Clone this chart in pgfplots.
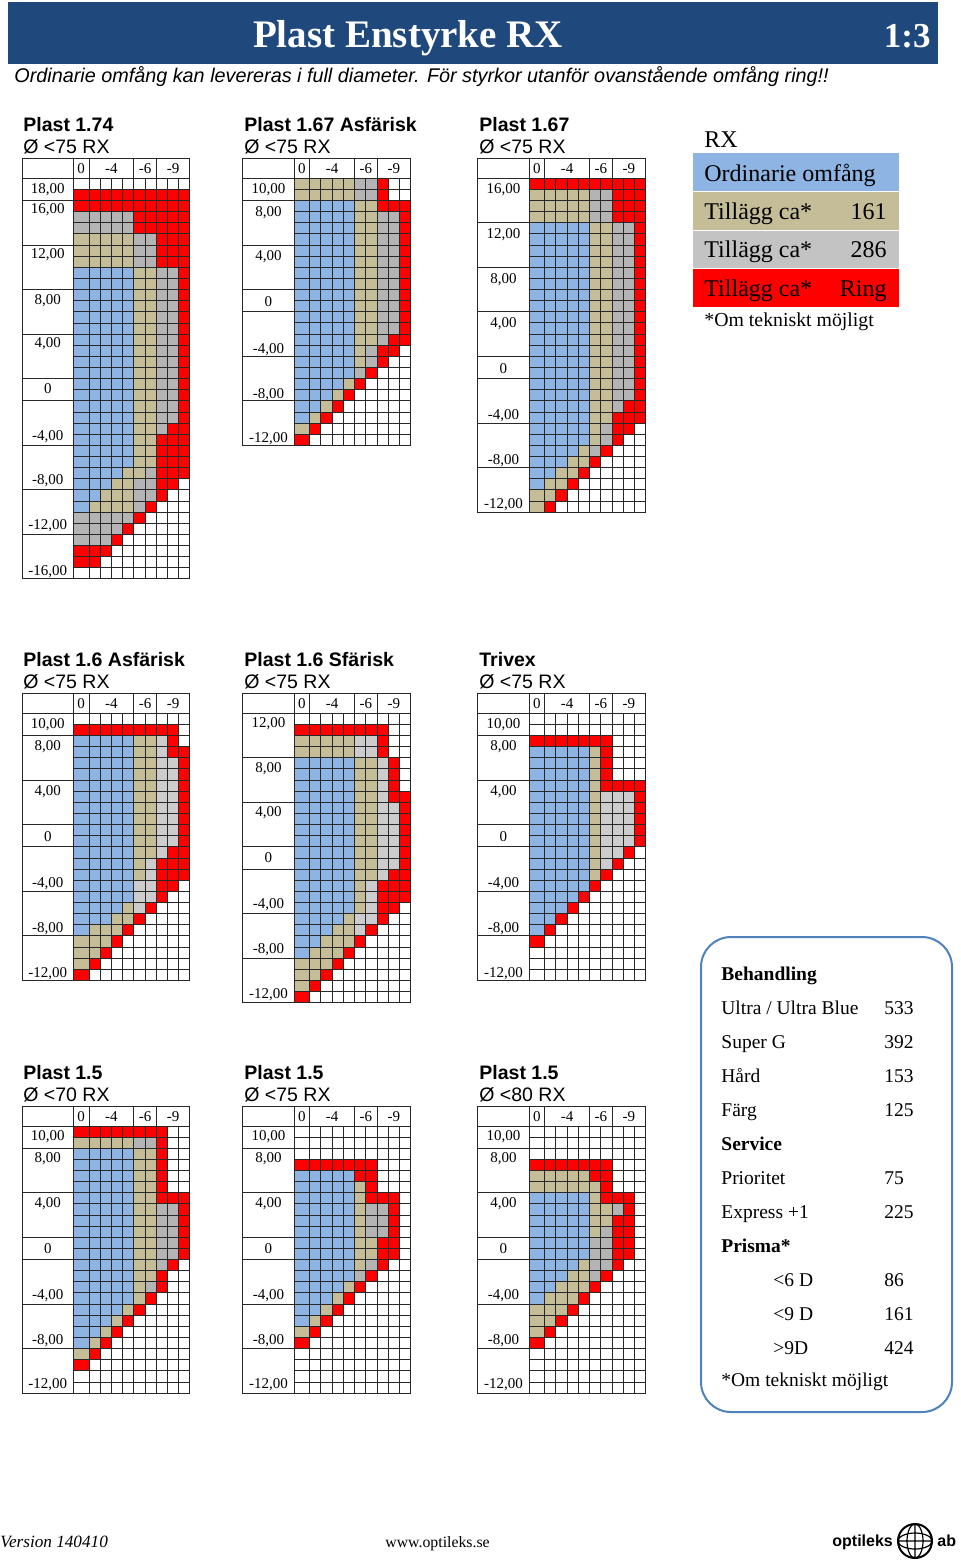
\documentclass[border=0pt]{standalone}
\usepackage{fontspec}
\setmainfont{Liberation Serif}
\newfontfamily\arial{Liberation Sans}
\usepackage{pgfplots}
\usepackage{pgfplotstable}
\pgfplotsset{compat=1.18}

\definecolor{cblue}{RGB}{141,180,226}
\definecolor{ctan}{RGB}{196,189,151}
\definecolor{cgray}{RGB}{180,180,180}
\definecolor{cgrayl}{RGB}{204,204,204}
\definecolor{cred}{RGB}{255,0,0}
\definecolor{cline}{RGB}{40,40,40}
\definecolor{chead}{RGB}{31,73,125}
\definecolor{cbox}{RGB}{79,129,189}

% r = row (from top), b/t/g/d = last column that is blue / tan / gray / red
\pgfplotstableread{
r b t g d
1 0 0 0 0
2 0 0 0 10
3 0 0 0 10
4 0 0 5 10
5 0 0 5 10
6 0 5 7 10
7 0 5 7 10
8 0 5 7 10
9 5 7 9 10
10 5 7 9 10
11 5 7 9 10
12 5 7 9 10
13 5 7 9 10
14 5 7 9 10
15 5 7 9 10
16 5 7 9 10
17 5 7 9 10
18 5 7 9 10
19 5 7 9 10
20 5 7 9 10
21 5 7 9 10
22 5 7 9 10
23 5 7 8 10
24 5 7 7 10
25 5 7 7 10
26 5 7 7 10
27 4 6 7 10
28 3 5 7 9
29 2 5 7 8
30 1 5 6 7
31 0 0 5 6
32 0 0 4 5
33 0 0 3 4
34 0 0 0 3
35 0 0 0 2
36 0 0 0 0
}\tabA

\pgfplotstableread{
r b t g d
1 0 5 7 8
2 0 5 7 8
3 5 7 7 10
4 5 7 9 10
5 5 7 9 10
6 5 7 9 10
7 5 7 9 10
8 5 7 9 10
9 5 7 9 10
10 5 7 9 10
11 5 7 9 10
12 5 7 9 10
13 5 7 9 10
14 5 7 9 10
15 5 7 8 10
16 5 6 7 9
17 5 6 7 8
18 5 5 6 7
19 4 5 5 6
20 3 4 4 5
21 2 3 3 4
22 1 2 2 3
23 0 1 1 2
24 0 0 0 1
}\tabB

\pgfplotstableread{
r b t g d
1 0 0 0 10
2 0 5 7 10
3 0 5 7 10
4 0 5 7 10
5 5 7 9 10
6 5 7 9 10
7 5 7 9 10
8 5 7 9 10
9 5 7 9 10
10 5 7 9 10
11 5 7 9 10
12 5 7 9 10
13 5 7 9 10
14 5 7 9 10
15 5 7 9 10
16 5 7 9 10
17 5 7 9 10
18 5 7 9 10
19 5 7 9 10
20 5 7 9 10
21 5 7 8 10
22 5 7 7 10
23 5 6 7 9
24 5 6 7 8
25 4 5 6 7
26 3 5 5 6
27 2 4 4 5
28 1 3 3 4
29 0 2 2 3
30 0 1 1 2
}\tabC

\pgfplotstableread{
r b t g d
1 0 0 0 0
2 0 0 0 9
3 5 7 8 9
4 5 7 8 10
5 5 7 9 10
6 5 7 9 10
7 5 7 9 10
8 5 7 9 10
9 5 7 9 10
10 5 7 9 10
11 5 7 9 10
12 5 7 9 10
13 5 7 8 10
14 5 6 7 10
15 5 6 7 10
16 5 5 7 9
17 5 5 7 8
18 4 5 6 7
19 3 5 5 6
20 1 4 4 5
21 0 3 3 4
22 0 2 2 3
23 0 1 1 2
24 0 0 0 1
}\tabD

\pgfplotstableread{
r b t g d
1 0 0 0 0
2 0 0 0 8
3 0 5 7 8
4 0 5 7 8
5 5 7 8 9
6 5 7 8 9
7 5 7 8 9
8 5 7 8 10
9 5 7 9 10
10 5 7 9 10
11 5 7 9 10
12 5 7 9 10
13 5 7 9 10
14 5 7 9 10
15 5 7 8 10
16 5 6 7 10
17 5 6 7 10
18 5 6 7 9
19 4 5 7 8
20 3 5 6 7
21 2 5 5 6
22 1 4 4 5
23 0 3 3 4
24 0 2 2 3
25 0 1 1 2
26 0 0 0 1
}\tabE

\pgfplotstableread{
r b t g d
1 0 0 0 0
2 0 0 0 0
3 0 0 0 7
4 5 6 6 7
5 5 6 6 7
6 5 6 6 7
7 5 6 6 10
8 5 6 9 10
9 5 6 9 10
10 5 6 9 10
11 5 6 9 10
12 5 6 9 10
13 5 6 8 9
14 5 6 7 8
15 5 6 6 7
16 5 5 5 6
17 4 4 4 5
18 3 3 3 4
19 2 2 2 3
20 1 1 1 2
21 0 0 0 1
22 0 0 0 0
23 0 0 0 0
24 0 0 0 0
}\tabF

\pgfplotstableread{
r b t g d
1 0 0 0 8
2 0 5 7 8
3 5 7 7 8
4 5 7 7 8
5 5 7 7 8
6 5 7 7 8
7 5 7 7 10
8 5 7 9 10
9 5 7 9 10
10 5 7 9 10
11 5 7 9 10
12 5 7 9 10
13 5 7 8 9
14 5 7 7 8
15 5 6 7 8
16 5 6 6 7
17 4 5 5 6
18 3 4 4 5
19 2 3 3 4
20 1 2 2 3
21 0 1 1 2
22 0 0 0 1
23 0 0 0 0
24 0 0 0 0
}\tabG

\pgfplotstableread{
r b t g d
1 0 0 0 0
2 0 0 0 0
3 0 0 0 0
4 0 0 0 7
5 5 5 5 7
6 5 6 6 7
7 5 6 6 9
8 5 6 8 9
9 5 6 8 9
10 5 6 8 9
11 5 7 7 9
12 5 7 7 9
13 5 6 7 8
14 5 5 6 7
15 4 5 5 6
16 3 4 4 5
17 2 3 3 4
18 1 2 2 3
19 0 1 1 2
20 0 0 0 1
21 0 0 0 0
22 0 0 0 0
23 0 0 0 0
24 0 0 0 0
}\tabH

\pgfplotstableread{
r b t g d
1 0 0 0 0
2 0 0 0 0
3 0 0 0 0
4 0 0 0 7
5 0 5 5 7
6 0 6 6 7
7 5 6 6 9
8 5 7 8 9
9 5 7 7 9
10 5 6 7 9
11 5 5 7 9
12 5 5 7 9
13 4 5 7 8
14 3 5 6 7
15 2 5 5 6
16 1 4 4 5
17 0 3 3 4
18 0 2 2 3
19 0 1 1 2
20 0 0 0 1
21 0 0 0 0
22 0 0 0 0
23 0 0 0 0
24 0 0 0 0
}\tabI

\pgfplotsset{
  rxaxis/.style={anchor=north west, x=5.61pt, y=5.565pt, y dir=reverse,
    xmin=0, xmax=10.4, ymin=0.5, axis on top, clip=false,
    xtick={0,1.4,2.4,3.4,4.4,5.4,6.4,7.4,8.4,9.4,10.4},
    xticklabels={}, yticklabels={}, major tick length=0pt,
    grid=major, grid style={cline, line width=0.5pt},
    axis line style={cline, line width=0.5pt}},
  rxbar/.style={xbar, bar width=1, bar shift=0pt, draw=none},
}
\tikzset{lab/.style={inner sep=0pt, font=\fontsize{7.5}{9}\selectfont}}
\newcommand\hl[1]{(axis cs:-4.55,#1) -- (axis cs:0,#1)}
\newcommand\lb[2]{\node[lab] at (axis cs:-2.275,#1) {#2};}

% #1 anchor coordinate name, #3 table, #4 rows, #5 gray colour, #6 extras
\newcommand{\rxgrid}[6]{%
\begin{axis}[rxaxis, at={(#1)}, ymax=#4.5, ytick={0.5,1.5,...,#4.5}]
\addplot[rxbar, fill=cred] table[y=r, x expr={\thisrow{d}+0.4*(\thisrow{d}>0)}] {#3};
\addplot[rxbar, fill=#5] table[y=r, x expr={\thisrow{g}+0.4*(\thisrow{g}>0)}] {#3};
\addplot[rxbar, fill=ctan] table[y=r, x expr={\thisrow{t}+0.4*(\thisrow{t}>0)}] {#3};
\addplot[rxbar, fill=cblue] table[y=r, x expr={\thisrow{b}+0.4*(\thisrow{b}>0)}] {#3};
\draw[cline, line width=0.5pt] (axis cs:-4.55,-1.25) rectangle (axis cs:10.4,#4.5);
\draw[cline, line width=0.5pt] (axis cs:-4.55,0.5) -- (axis cs:0,0.5)
  (axis cs:0,-1.25) -- (axis cs:0,0.5) (axis cs:1.4,-1.25) -- (axis cs:1.4,0.5)
  (axis cs:5.4,-1.25) -- (axis cs:5.4,0.5) (axis cs:7.4,-1.25) -- (axis cs:7.4,0.5);
\node[lab] at (axis cs:0.7,-0.375) {0};
\node[lab] at (axis cs:3.4,-0.375) {-4};
\node[lab] at (axis cs:6.4,-0.375) {-6};
\node[lab] at (axis cs:8.9,-0.375) {-9};
#6
\end{axis}}

\newcommand\gtitle[4]{%
\node[anchor=base west, inner sep=0pt, font=\arial\bfseries\fontsize{9.75}{11}\selectfont] at (#1,#2-27) {#3};
\node[anchor=base west, inner sep=0pt, font=\arial\fontsize{9.75}{11}\selectfont] at (#1,#2-5) {#4};}

\begin{document}
\begin{tikzpicture}[x=0.5pt,y=-0.5pt]
\path[use as bounding box] (0,0) rectangle (960,1563);
% anchor points of the grids (top-left of the coloured cells)
\coordinate (gA) at (73.3,178.3);
\coordinate (gB) at (294,178.3);
\coordinate (gC) at (529,178.3);
\coordinate (gD) at (73.3,713.3);
\coordinate (gE) at (294,713.3);
\coordinate (gF) at (529,713.3);
\coordinate (gG) at (73.3,1126);
\coordinate (gH) at (294,1126);
\coordinate (gI) at (529,1126);
% header
\fill[chead] (8,2) rectangle (938,64);
\node[anchor=base, inner sep=0pt, text=white, font=\bfseries\fontsize{19.5}{22}\selectfont] at (408,47) {Plast Enstyrke RX};
\node[anchor=base east, inner sep=0pt, text=white, font=\bfseries\fontsize{17.5}{20}\selectfont] at (931,47) {1:3};
\node[anchor=base west, inner sep=0pt, font=\arial\itshape\fontsize{9.9}{12}\selectfont] at (14,82) {Ordinarie omfång kan levereras i full diameter. För styrkor utanför ovanstående omfång ring!!};

% grid titles
\gtitle{23}{158.8}{Plast 1.74}{Ø <75 RX}
\gtitle{244}{158.8}{Plast 1.67 Asfärisk}{Ø <75 RX}
\gtitle{479}{158.8}{Plast 1.67}{Ø <75 RX}
\gtitle{23}{693.8}{Plast 1.6 Asfärisk}{Ø <75 RX}
\gtitle{244}{693.8}{Plast 1.6 Sfärisk}{Ø <75 RX}
\gtitle{479}{693.8}{Trivex}{Ø <75 RX}
\gtitle{23}{1106.5}{Plast 1.5}{Ø <70 RX}
\gtitle{244}{1106.5}{Plast 1.5}{Ø <75 RX}
\gtitle{479}{1106.5}{Plast 1.5}{Ø <80 RX}

% grids
\rxgrid{gA}{}{\tabA}{36}{cgray}{%
\draw[cline, line width=0.5pt] \hl{2.5} \hl{6.5} \hl{10.5} \hl{14.5} \hl{18.5} \hl{20.5} \hl{24.5} \hl{28.5} \hl{32.5};
\lb{1.55}{18,00}\lb{3.35}{16,00}\lb{7.4}{12,00}\lb{11.45}{8,00}\lb{15.35}{4,00}\lb{19.4}{0}\lb{23.7}{-4,00}\lb{27.7}{-8,00}\lb{31.7}{-12,00}\lb{35.8}{-16,00}}

\rxgrid{gB}{}{\tabB}{24}{cgray}{%
\draw[cline, line width=0.5pt] \hl{2.5} \hl{6.5} \hl{10.5} \hl{12.5} \hl{16.5} \hl{20.5};
\lb{1.55}{10,00}\lb{3.6}{8,00}\lb{7.5}{4,00}\lb{11.6}{0}\lb{15.9}{-4,00}\lb{19.9}{-8,00}\lb{23.9}{-12,00}}

\rxgrid{gC}{}{\tabC}{30}{cgray}{%
\draw[cline, line width=0.5pt] \hl{4.5} \hl{8.5} \hl{12.5} \hl{16.5} \hl{18.5} \hl{22.5} \hl{26.5};
\lb{1.55}{16,00}\lb{5.55}{12,00}\lb{9.6}{8,00}\lb{13.6}{4,00}\lb{17.6}{0}\lb{21.85}{-4,00}\lb{25.85}{-8,00}\lb{29.85}{-12,00}}

\rxgrid{gD}{}{\tabD}{24}{cgrayl}{%
\draw[cline, line width=0.5pt] \hl{2.5} \hl{6.5} \hl{10.5} \hl{12.5} \hl{16.5} \hl{20.5};
\lb{1.55}{10,00}\lb{3.5}{8,00}\lb{7.5}{4,00}\lb{11.6}{0}\lb{15.85}{-4,00}\lb{19.85}{-8,00}\lb{23.9}{-12,00}}

\rxgrid{gE}{}{\tabE}{26}{cgrayl}{%
\draw[cline, line width=0.5pt] \hl{4.5} \hl{8.5} \hl{12.5} \hl{14.5} \hl{18.5} \hl{22.5};
\lb{1.45}{12,00}\lb{5.45}{8,00}\lb{9.4}{4,00}\lb{13.5}{0}\lb{17.7}{-4,00}\lb{21.75}{-8,00}\lb{25.8}{-12,00}}

\rxgrid{gF}{}{\tabF}{24}{cgrayl}{%
\draw[cline, line width=0.5pt] \hl{2.5} \hl{6.5} \hl{10.5} \hl{12.5} \hl{16.5} \hl{20.5};
\lb{1.55}{10,00}\lb{3.5}{8,00}\lb{7.5}{4,00}\lb{11.6}{0}\lb{15.85}{-4,00}\lb{19.85}{-8,00}\lb{23.9}{-12,00}}

\rxgrid{gG}{}{\tabG}{24}{cgray}{%
\draw[cline, line width=0.5pt] \hl{2.5} \hl{6.5} \hl{10.5} \hl{12.5} \hl{16.5} \hl{20.5};
\lb{1.46}{10,00}\lb{3.4}{8,00}\lb{7.45}{4,00}\lb{11.5}{0}\lb{15.7}{-4,00}\lb{19.75}{-8,00}\lb{23.75}{-12,00}}

\rxgrid{gH}{}{\tabH}{24}{cgray}{%
\draw[cline, line width=0.5pt] \hl{2.5} \hl{6.5} \hl{10.5} \hl{12.5} \hl{16.5} \hl{20.5};
\lb{1.46}{10,00}\lb{3.4}{8,00}\lb{7.45}{4,00}\lb{11.5}{0}\lb{15.7}{-4,00}\lb{19.75}{-8,00}\lb{23.75}{-12,00}}

\rxgrid{gI}{}{\tabI}{24}{cgray}{%
\draw[cline, line width=0.5pt] \hl{2.5} \hl{6.5} \hl{10.5} \hl{12.5} \hl{16.5} \hl{20.5};
\lb{1.46}{10,00}\lb{3.4}{8,00}\lb{7.45}{4,00}\lb{11.5}{0}\lb{15.7}{-4,00}\lb{19.75}{-8,00}\lb{23.75}{-12,00}}

% legend
\node[anchor=base west, inner sep=0pt, font=\fontsize{12}{14}\selectfont] at (704,147) {RX};
\fill[cblue] (693,153) rectangle (899,191);
\fill[ctan] (693,192) rectangle (899,230);
\fill[cgray!80] (693,231) rectangle (899,268);
\fill[cred] (693,269) rectangle (899,307);
\begin{scope}[every node/.style={inner sep=0pt, font=\fontsize{12}{14}\selectfont}]
\node[anchor=base west] at (704,181) {Ordinarie omfång};
\node[anchor=base west] at (704,219) {Tillägg ca*};
\node[anchor=base east] at (887,219) {161};
\node[anchor=base west] at (704,257) {Tillägg ca*};
\node[anchor=base east] at (887,257) {286};
\node[anchor=base west] at (704,296) {Tillägg ca*};
\node[anchor=base east] at (887,296) {Ring};
\end{scope}
\node[anchor=base west, inner sep=0pt, font=\fontsize{9.9}{12}\selectfont] at (704,326) {*Om tekniskt möjligt};

% price box
\draw[cbox, line width=1pt, rounded corners=15pt] (701,937) rectangle (952,1412);
\begin{scope}[every node/.style={inner sep=0pt, anchor=base west, font=\fontsize{9.75}{12}\selectfont}]
\node at (721,980) {\bfseries Behandling};
\node at (721,1014) {Ultra / Ultra Blue}; \node at (884,1014) {533};
\node at (721,1048) {Super G}; \node at (884,1048) {392};
\node at (721,1082) {Hård}; \node at (884,1082) {153};
\node at (721,1116) {Färg}; \node at (884,1116) {125};
\node at (721,1150) {\bfseries Service};
\node at (721,1184) {Prioritet}; \node at (884,1184) {75};
\node at (721,1218) {Express +1}; \node at (884,1218) {225};
\node at (721,1252) {\bfseries Prisma*};
\node at (773,1286) {<6 D}; \node at (884,1286) {86};
\node at (773,1320) {<9 D}; \node at (884,1320) {161};
\node at (773,1354) {>9D}; \node at (884,1354) {424};
\node at (721,1386) {*Om tekniskt möjligt};
\end{scope}

% footer
\node[anchor=base west, inner sep=0pt, font=\itshape\fontsize{8.6}{10}\selectfont] at (0,1547) {Version 140410};
\node[anchor=base west, inner sep=0pt, font=\fontsize{7.9}{10}\selectfont] at (385,1547) {www.optileks.se};
\node[anchor=base west, inner sep=0pt, font=\arial\bfseries\fontsize{8}{10}\selectfont] at (832,1546) {optileks};
\draw[line width=1pt] (915,1541) circle (17);
\draw[line width=0.6pt] (915,1524) -- (915,1558) (898,1541) -- (932,1541)
  (915,1541) ellipse (8 and 17) (915,1541) ellipse (17 and 8);
\node[anchor=base west, inner sep=0pt, font=\arial\bfseries\fontsize{8}{10}\selectfont] at (937,1546) {ab};
\end{tikzpicture}
\end{document}
